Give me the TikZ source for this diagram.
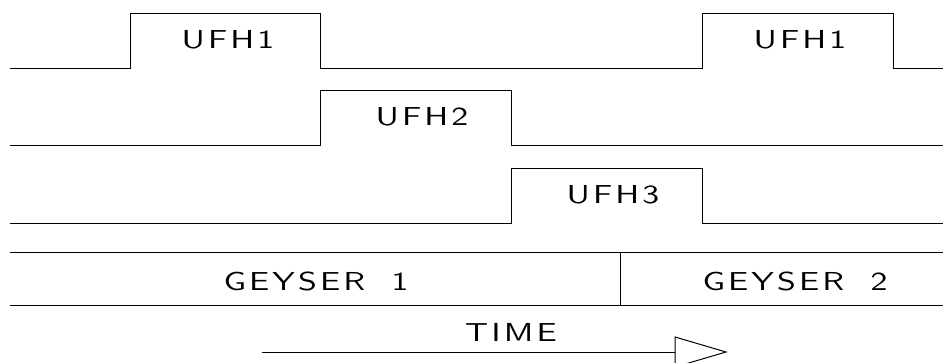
\documentclass[tikz,border=0pt]{standalone}
\usepackage{fontspec}
\usepackage{tikz}
\newfontfamily\cadfont{lmsans10-regular.otf}[LetterSpace=12,FakeStretch=1.3]
\tikzset{sig/.style={line width=1pt},
  lbl/.style={font=\fontsize{26}{30}\cadfont, inner sep=0pt}}
\begin{document}
\begin{tikzpicture}[x=1pt,y=-1pt]
\useasboundingbox (0,0) rectangle (943,362);
% UFH1
    \draw[sig] (10,68)--(130,68)--(130,13)--(320,13)--(320,68)--(702,68)--(702,13)--(893,13)--(893,68)--(943,68);
\node[lbl] (ufh1a) at (228,40) {UFH1};
\node[lbl] (ufh1b) at (800,40) {UFH1};

% UFH2
    \draw[sig] (10,145)--(320,145)--(320,90)--(511,90)--(511,145)--(943,145);
\node[lbl] (ufh2) at (422,117) {UFH2};

% UFH3
    \draw[sig] (10,223)--(511,223)--(511,168)--(702,168)--(702,223)--(943,223);
\node[lbl] (ufh3) at (613,195) {UFH3};

% geysers
    \draw[sig] (10,252)--(943,252) (10,305)--(943,305) (620,252)--(620,305);
\node[lbl] (gey1) at (316,281) {GEYSER\hspace{12pt} 1};
\node[lbl] (gey2) at (795,281) {GEYSER\hspace{12pt} 2};

% time arrow
\node[lbl] (time) at (511,332) {TIME};
\coordinate (tstart) at (262,352);
\coordinate (tend) at (675,352);
    \draw[sig] (tstart)--(tend);
    \draw[sig] (tend)--++(0,-15)--(726,352)--(675,367)--cycle;
\end{tikzpicture}
\end{document}
